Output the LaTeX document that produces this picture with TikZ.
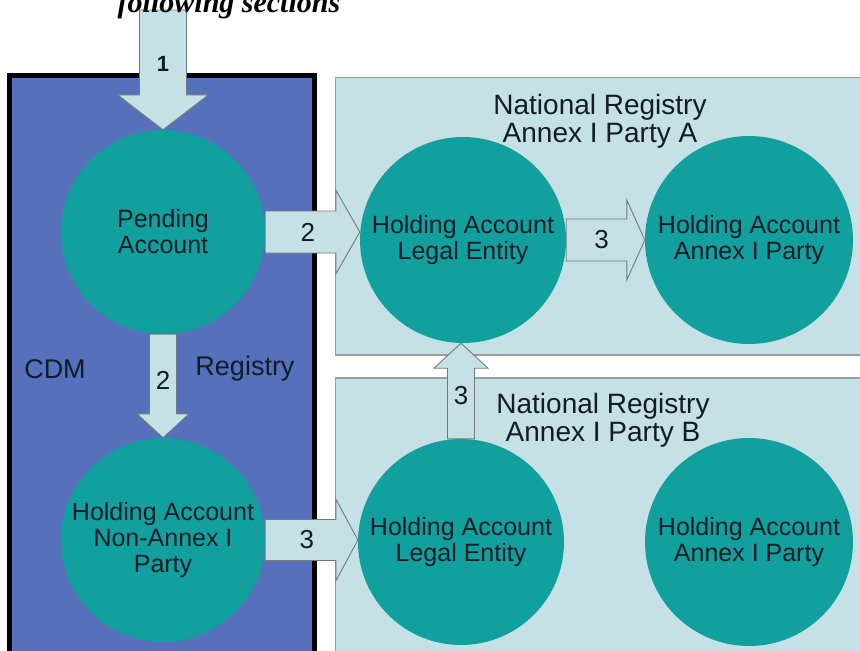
\documentclass[tikz,border=0pt]{standalone}
\usepackage{fontspec}
\setmainfont{Liberation Sans}
\newfontfamily\titlefont{Liberation Serif}
\usetikzlibrary{calc}

\definecolor{cdmblue}{RGB}{86,112,188}
\definecolor{acctteal}{RGB}{18,160,158}
\definecolor{regcyan}{RGB}{197,225,229}
\definecolor{edgegray}{RGB}{112,122,128}
\definecolor{boxgray}{RGB}{150,160,162}
\definecolor{inkdark}{RGB}{18,28,38}

% block arrow: shaft half width, head half width, head length, from, to, label
\newcommand{\blockarrow}[6]{%
  \coordinate (hb) at ($(#5)!#3!(#4)$);
  \filldraw[arrowbox] ($(#4)!#1!90:(#5)$) -- ($(hb)!#1!90:(#5)$)
    -- ($(hb)!#2!90:(#5)$) -- (#5) -- ($(hb)!#2!-90:(#5)$)
    -- ($(hb)!#1!-90:(#5)$) -- ($(#4)!#1!-90:(#5)$) -- cycle;
  \node[steplabel] at ($(#4)!0.45!(#5)$) {#6};
}

\begin{document}
\begin{tikzpicture}[x=1pt,y=-1pt,
  acct/.style={circle,fill=acctteal,inner sep=0pt,minimum size=#1,align=center,
    text=inkdark,font=\fontsize{25}{26}\selectfont},
  heading/.style={align=center,text=inkdark,font=\fontsize{28}{28}\selectfont},
  side/.style={text=inkdark,font=\fontsize{27}{27}\selectfont},
  arrowbox/.style={fill=regcyan,draw=edgegray,line width=0.9pt,line join=miter},
  steplabel/.style={text=inkdark,font=\fontsize{26}{26}\selectfont}]

\clip (0,0) rectangle (860,651);
\fill[white] (0,0) rectangle (860,651);

% Registry boxes
\draw[line width=5pt,fill=cdmblue] (9.5,75.5) rectangle (314.5,700);
\draw[boxgray,line width=1.4pt,fill=regcyan] (335.5,77.5) rectangle (880,355);
\draw[boxgray,line width=1.4pt,fill=regcyan] (335.5,378) rectangle (880,700);

% Accounts
\node[acct=204pt] (pend)     at (163,232) {Pending\\Account};
\node[acct=204pt] (nonannex) at (163,540) {Holding Account\\Non-Annex I\\Party};
\node[acct=206pt] (legalA)   at (463,240) {Holding Account\\Legal Entity};
\node[acct=208pt] (annexA)   at (749,240) {Holding Account\\Annex I Party};
\node[acct=206pt] (legalB)   at (461,542) {Holding Account\\Legal Entity};
\node[acct=208pt] (annexB)   at (749,542) {Holding Account\\Annex I Party};

% Registry names
\node[heading] (regA) at (600,121) {National Registry\\Annex I Party A};
\node[heading] (regB) at (603,420) {National Registry\\Annex I Party B};
\node[side] (cdm)  at (55,369)  {CDM};
\node[side] (creg) at (245,369) {Registry};

% Define coordinates
\coordinate (feed) at (163,10);
\coordinate (to2a) at (pend.east -| legalA.west);
\coordinate (to3a) at (legalA.east -| annexA.west);
\coordinate (to2b) at (pend.south |- nonannex.north);
\coordinate (to3b) at (legalB.north |- legalA.south);
\coordinate (to3c) at (nonannex.east -| legalB.west);

% Transfers
\blockarrow{23.5pt}{45.5pt}{35pt}{feed}{pend.north}{\fontsize{22}{22}\selectfont\bfseries 1}
\blockarrow{21pt}{42pt}{24pt}{pend.east}{to2a}{2}
\blockarrow{21pt}{40pt}{18pt}{legalA.east}{to3a}{3}
\blockarrow{13.5pt}{26pt}{24pt}{pend.south}{to2b}{2}
\blockarrow{13.5pt}{27pt}{25pt}{legalB.north}{to3b}{3}
\blockarrow{20.5pt}{41pt}{22pt}{nonannex.east}{to3c}{3}

\node[anchor=base,font=\titlefont\bfseries\itshape\fontsize{30}{30}\selectfont] (title)
  at (229,12) {following sections};

\end{tikzpicture}
\end{document}
